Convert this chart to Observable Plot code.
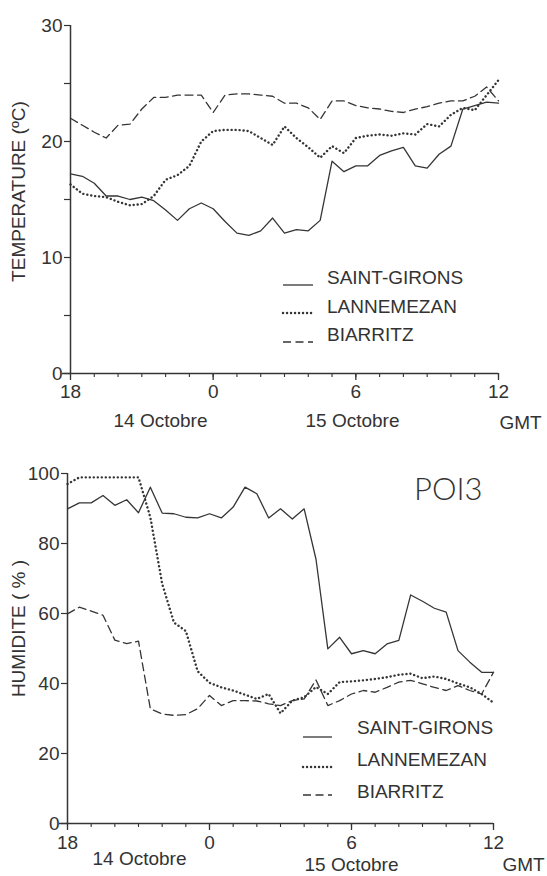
<!DOCTYPE html>
<html><head><meta charset="utf-8">
<script src="https://cdn.jsdelivr.net/npm/d3@7"></script>
<script src="https://cdn.jsdelivr.net/npm/@observablehq/plot@0.6"></script>
<style>
body{margin:0;background:#fff;}
#wrap{position:relative;width:547px;height:876px;overflow:hidden;font-family:"Liberation Sans",Arial,sans-serif;color:#333;background:#fff;}
#wrap svg{display:block}
.lt{position:absolute;font-size:19px;line-height:22px;white-space:nowrap;color:#333;}
.ls{position:absolute;overflow:visible;}
.poi{position:absolute;font-family:Lato,"Open Sans",sans-serif;font-weight:300;font-size:31px;line-height:34px;color:#333;}
</style></head>
<body><div id="wrap"></div>
<script>
// hours after 18 GMT on 14 October
const hours = [0,0.5,1,1.5,2,2.5,3,3.5,4,4.5,5,5.5,6,6.5,7,7.5,8,8.5,9,9.5,10,10.5,11,11.5,12,12.5,13,13.5,14,14.5,15,15.5,16,16.5,17,17.5,18];
const stations = ["SAINT-GIRONS","LANNEMEZAN","BIARRITZ"];

const tempSaintGirons = [17.2,17.0,16.4,15.3,15.3,15.0,15.2,14.9,14.1,13.2,14.2,14.7,14.2,13.1,12.1,11.9,12.3,13.4,12.1,12.4,12.3,13.2,18.3,17.4,17.9,17.9,18.8,19.2,19.5,17.9,17.7,18.9,19.6,22.8,23.1,23.4,23.3];
const tempLannemezan  = [16.3,15.5,15.3,15.2,14.8,14.5,14.6,15.3,16.7,17.1,17.9,20.0,20.9,21.0,21.0,20.9,20.3,19.7,21.3,20.3,19.5,18.6,19.6,19.0,20.3,20.5,20.6,20.5,20.7,20.6,21.5,21.3,22.3,22.9,22.7,24.0,25.3];
const tempBiarritz    = [22.0,21.4,20.8,20.3,21.4,21.5,22.8,23.8,23.8,24.0,24.0,24.0,22.5,24.0,24.1,24.1,24.0,23.9,23.3,23.3,22.9,21.9,23.5,23.5,23.1,22.9,22.8,22.6,22.5,22.8,23.0,23.3,23.5,23.5,23.9,24.7,23.5];

const humSaintGirons = [89.9,91.6,91.6,93.7,90.9,92.5,88.8,96.1,88.7,88.5,87.5,87.3,88.5,87.3,90.4,96.1,94.2,87.3,89.9,87.0,89.9,75.5,49.9,53.2,48.5,49.4,48.5,51.3,52.3,65.3,63.5,61.5,60.4,49.4,46.1,43.2,43.2];
const humLannemezan  = [97.0,98.9,98.9,98.9,98.9,98.9,98.9,87.5,68.5,57.4,55.0,43.5,40.2,38.9,38.0,36.8,35.6,37.0,31.5,35.1,36.1,39.0,37.0,40.4,40.6,40.9,41.3,41.8,42.5,42.8,41.5,42.0,41.3,40.0,38.9,37.0,34.5];
const humBiarritz    = [59.9,61.8,60.7,59.5,52.4,51.4,52.1,32.8,31.3,30.9,31.1,32.8,36.6,33.7,35.1,35.1,35.0,34.2,33.7,35.1,35.6,41.0,33.7,35.1,37.0,38.0,37.5,38.9,40.4,40.9,39.9,38.9,38.0,39.4,38.0,37.0,43.2];

const hourTicks = [0,1,2,3,4,5,6,7,8,9,10,11,12,13,14,15,16,17,18];
const majorTicks = [0,6,12,18];
const majorTickLabels = ["18","0","6","12"];
const tempTicks = [0,5,10,15,20,25,30];
const tempTickLabels = ["0","","10","","20","","30"];
const humTicks = [0,20,40,60,80,100];
const humTickLabels = ["0","20","40","60","80","100"];
const dayLabels = ["14 Octobre","15 Octobre"];
const unitLabel = "GMT";
const tempTitle = "TEMPERATURE (ºC)";
const humTitle = "HUMIDITE ( % )";
const caseLabel = "POI3";

const INK = "#353535";
const lineStyle = {
  "SAINT-GIRONS": {stroke: INK, strokeWidth: 1.3},
  "LANNEMEZAN":   {stroke: INK, strokeWidth: 2.4, strokeDasharray: "0.1,3.9", strokeLinecap: "round"},
  "BIARRITZ":     {stroke: INK, strokeWidth: 1.3, strokeDasharray: "8,4.5"}
};

function rows(values) { return hours.map((h, i) => ({h, v: values[i]})); }

function panel(cfg) {
  const lines = cfg.series.map((vals, k) =>
    Plot.line(rows(vals), {x: "h", y: "v", ...lineStyle[stations[k]]}));
  return Plot.plot({
    width: 547, height: cfg.height,
    marginTop: cfg.mt, marginBottom: cfg.mb, marginLeft: cfg.ml, marginRight: cfg.mr,
    x: {domain: [0, 18]},
    y: {domain: cfg.yDomain},
    style: {fontFamily: "'Liberation Sans', Arial, sans-serif", fontSize: "19px", color: "#333", background: "#fff", overflow: "visible"},
    marks: [
      Plot.axisY({ticks: cfg.yTicks, tickFormat: d => cfg.yTickLabels[cfg.yTicks.indexOf(d)], tickSize: 6, tickPadding: 2, strokeWidth: 1.2, label: null}),
      Plot.axisX({ticks: hourTicks, tickFormat: () => "", tickSize: 4, strokeWidth: 1.1, label: null}),
      Plot.axisX({ticks: majorTicks, tickFormat: d => majorTickLabels[majorTicks.indexOf(d)], tickSize: 7, tickPadding: cfg.xPad, strokeWidth: 1.3, label: null}),
      Plot.ruleX([0], {stroke: INK, strokeWidth: 1.5}),
      Plot.ruleY([cfg.yDomain[0]], {stroke: INK, strokeWidth: 1.5, insetLeft: -8}),
      ...lines,
      Plot.text([cfg.title], {frameAnchor: "left", dx: cfg.titleDx, dy: cfg.titleDy, rotate: -90, textAnchor: "middle", fill: "#333"}),
      Plot.text([dayLabels[0]], {frameAnchor: "bottom-left", dx: cfg.d1[0], dy: cfg.d1[1], textAnchor: "middle", lineAnchor: "middle", fill: "#333"}),
      Plot.text([dayLabels[1]], {frameAnchor: "bottom-left", dx: cfg.d2[0], dy: cfg.d2[1], textAnchor: "middle", lineAnchor: "middle", fill: "#333"}),
      Plot.text([unitLabel], {frameAnchor: "bottom-left", dx: cfg.g[0], dy: cfg.g[1], textAnchor: "middle", lineAnchor: "middle", fill: "#333"})
    ]
  });
}

const wrap = document.getElementById("wrap");
wrap.appendChild(panel({
  series: [tempSaintGirons, tempLannemezan, tempBiarritz],
  height: 440, mt: 25, mb: 67, ml: 70, mr: 49,
  yDomain: [0, 30], yTicks: tempTicks, yTickLabels: tempTickLabels, xPad: 4,
  title: tempTitle, titleDx: -52, titleDy: -8,
  d1: [90, 47], d2: [282, 47], g: [450, 49]
}));
wrap.appendChild(panel({
  series: [humSaintGirons, humLannemezan, humBiarritz],
  height: 436, mt: 33, mb: 53, ml: 67, mr: 54,
  yDomain: [0, 100], yTicks: humTicks, yTickLabels: humTickLabels, xPad: 5,
  title: humTitle, titleDx: -49, titleDy: -20,
  d1: [72, 35], d2: [284, 41], g: [456, 41]
}));

// legends (layout only)
function legend(x0, x1, tx, ys, lys) {
  stations.forEach((s, k) => {
    const st = lineStyle[s];
    const svg = d3.create("svg").attr("class", "ls")
      .attr("width", x1 - x0 + 4).attr("height", 8)
      .style("left", (x0 - 2) + "px").style("top", (lys[k] - 4) + "px");
    svg.append("line").attr("x1", 2).attr("x2", x1 - x0 + 2).attr("y1", 4).attr("y2", 4)
      .attr("stroke", st.stroke).attr("stroke-width", st.strokeWidth)
      .attr("stroke-dasharray", st.strokeDasharray || null)
      .attr("stroke-linecap", st.strokeLinecap || null);
    wrap.appendChild(svg.node());
    const t = document.createElement("div");
    t.className = "lt"; t.textContent = s;
    t.style.left = tx + "px"; t.style.top = (ys[k] - 11) + "px";
    wrap.appendChild(t);
  });
}
legend(283, 313, 327, [278, 307, 335], [285, 313, 342]);
legend(303, 332, 357, [728, 760, 792], [737, 767, 795]);

const poi = document.createElement("div");
poi.className = "poi"; poi.textContent = caseLabel;
poi.style.left = "414px"; poi.style.top = (488 - 17) + "px";
wrap.appendChild(poi);
</script>
</body></html>
